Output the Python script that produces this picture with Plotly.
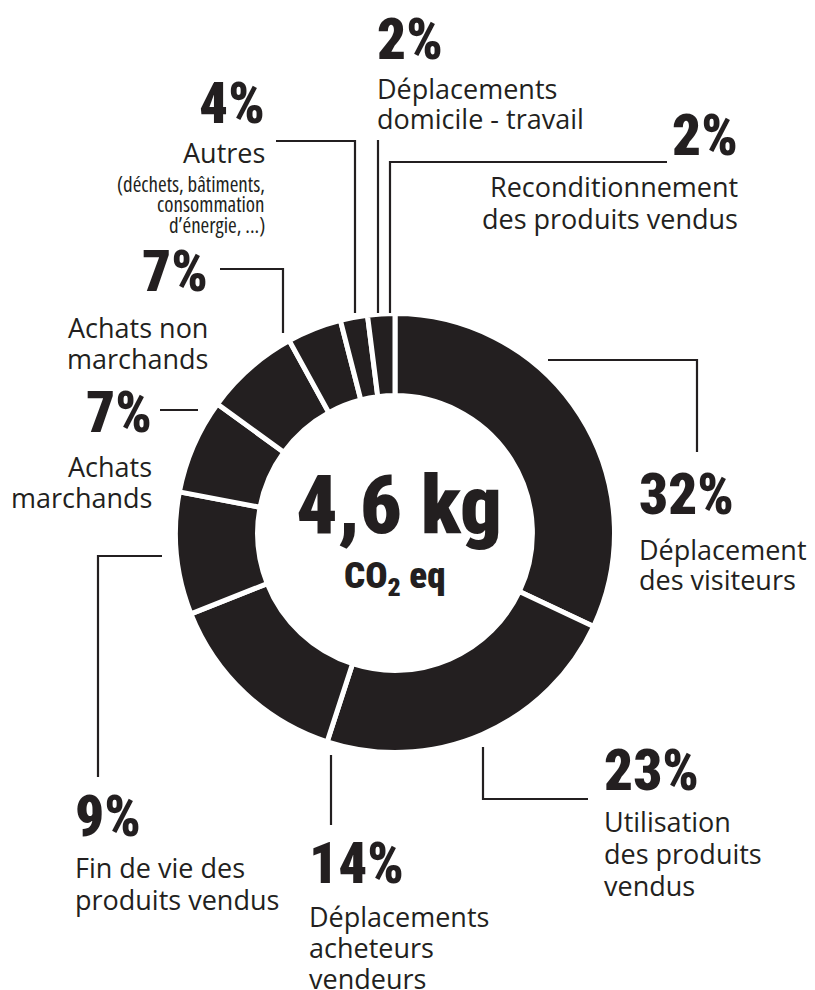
import plotly.graph_objects as go

# ---- data ----
categories = [
    "Déplacement des visiteurs",
    "Utilisation des produits vendus",
    "Déplacements acheteurs vendeurs",
    "Fin de vie des produits vendus",
    "Achats marchands",
    "Achats non marchands",
    "Autres",
    "Déplacements domicile - travail",
    "Reconditionnement des produits vendus",
]
shares = [32, 23, 14, 9, 7, 7, 4, 2, 2]
pct_labels = [f"{v}%" for v in shares]
label_lines = [
    ["Déplacement", "des visiteurs"],
    ["Utilisation", "des produits", "vendus"],
    ["Déplacements", "acheteurs", "vendeurs"],
    ["Fin de vie des", "produits vendus"],
    ["Achats", "marchands"],
    ["Achats non", "marchands"],
    ["Autres"],
    ["Déplacements", "domicile - travail"],
    ["Reconditionnement", "des produits vendus"],
]
autres_detail = ["(déchets, bâtiments,", "consommation", "d’énergie, ...)"]
total_text = "4,6 kg"
unit_text = "CO<sub>2</sub> eq"

# ---- style / layout ----
OFF = 8                      # page body margin
W, H = 815 - OFF, 990 - OFF  # figure size
INK = "#231f20"
COND = "Roboto, sans-serif"
BODY = "Open Sans, Noto Sans, sans-serif"
CX, CY, R = 395, 533, 219.5


def px(x):
    return (x - OFF) / W


def py(y):
    return 1 - (y - OFF) / H


fig = go.Figure()
fig.add_trace(go.Pie(
    labels=categories,
    values=shares,
    sort=False,
    direction="clockwise",
    rotation=0,
    hole=0.626,
    textinfo="none",
    hoverinfo="label+percent",
    showlegend=False,
    marker=dict(colors=[INK] * len(shares), line=dict(color="white", width=5)),
    domain=dict(x=[px(CX - R), px(CX + R)], y=[py(CY + R), py(CY - R)]),
))

# label placement (pixel space): pct anchor x, pct cap centre y, align, first baseline, line gap
place = [
    dict(x=637, pcy=495, al="left", b0=560, gap=30),
    dict(x=602, pcy=770, al="left", b0=832, gap=32),
    dict(x=307, pcy=863, al="left", b0=927, gap=31),
    dict(x=73, pcy=816, al="left", b0=878, gap=32),
    dict(x=154, pcy=412, al="right", b0=477, gap=31),
    dict(x=210, pcy=271, al="right", b0=338, gap=31),
    dict(x=267, pcy=103, al="right", b0=163, gap=30),
    dict(x=375, pcy=40, al="left", b0=99, gap=30),
    dict(x=740, pcy=136, al="right", b0=197, gap=32),
]
PCT_SIZE = 57
BODY_SIZE = 27


def text(x, y, s, size, family, al, weight=400, stretch=None):
    if stretch:
        s = f'<span style="font-stretch:{stretch}">{s}</span>'
    fig.add_annotation(
        x=px(x), y=py(y), xref="paper", yref="paper", text=s, showarrow=False,
        xanchor=al, yanchor="middle", align=al,
        font=dict(family=family, size=size, color=INK, weight=weight),
    )


for pl, pct, lines in zip(place, pct_labels, label_lines):
    text(pl["x"], pl["pcy"], pct, PCT_SIZE, COND, pl["al"], 900, "condensed")
    for i, ln in enumerate(lines):
        base = pl["b0"] + i * pl["gap"]
        text(pl["x"], base - 0.388 * BODY_SIZE, ln, BODY_SIZE, BODY, pl["al"])

SMALL = 21
for i, ln in enumerate(autres_detail):
    base = 192 + i * 20.5
    text(267, base - 0.388 * SMALL, ln, SMALL, BODY, "right", 400, "87.5%")

# centre texts
text(399, 505, total_text, 82, COND, "center", 900, "condensed")
text(394, 578, unit_text, 37, COND, "center", 900, "condensed")

# leader lines (pixel space polylines)
leaders = [
    [(548, 360), (697, 360), (697, 452)],
    [(483, 747), (483, 799), (588, 799)],
    [(331, 755), (331, 825)],
    [(162, 556), (98, 556), (98, 777)],
    [(160, 410), (198, 410)],
    [(220, 269), (283, 269), (283, 333)],
    [(276, 141), (355, 141), (355, 313)],
    [(378, 140), (378, 313)],
    [(667, 162), (390, 162), (390, 313)],
]
for pts in leaders:
    path = "M " + " L ".join(f"{px(x)},{py(y)}" for x, y in pts)
    fig.add_shape(type="path", path=path, xref="paper", yref="paper",
                  line=dict(color=INK, width=2.2))

fig.update_layout(
    width=W, height=H, margin=dict(l=0, r=0, t=0, b=0),
    paper_bgcolor="white", plot_bgcolor="white",
)
fig.write_html("out.html", config={"displayModeBar": False})
